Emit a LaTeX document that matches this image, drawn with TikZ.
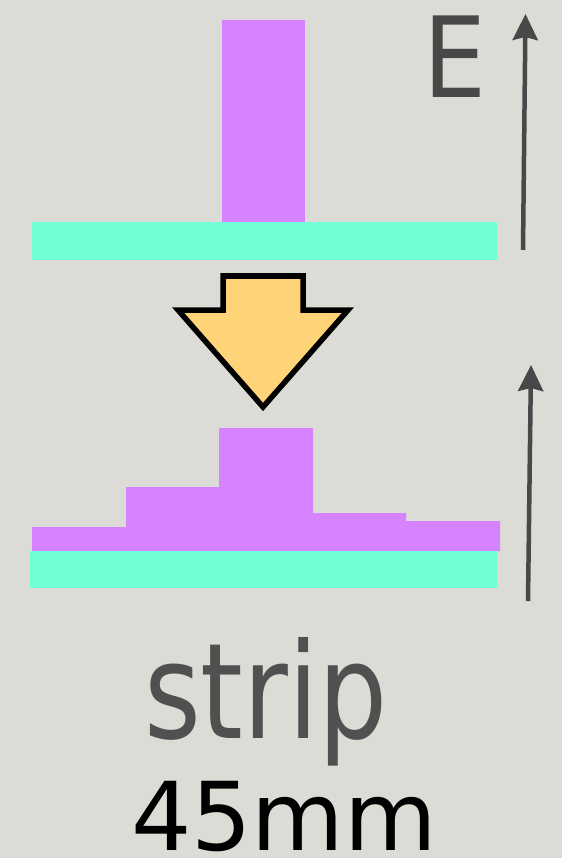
\documentclass[tikz,border=0pt]{standalone}
\usepackage{fontspec}
\setmainfont{DejaVu Sans}
\usetikzlibrary{arrows.meta}
\definecolor{paper}{RGB}{221,219,213}
\definecolor{filmpurple}{RGB}{214,131,255}
\definecolor{subgreen}{RGB}{115,255,214}
\definecolor{pushyellow}{RGB}{255,212,121}
\definecolor{inkgray}{RGB}{72,72,72}
\definecolor{textgray}{RGB}{80,80,80}

\begin{document}
\begin{tikzpicture}[x=1pt,y=-1pt,
  film/.style={fill=filmpurple},
  substrate/.style={fill=subgreen},
  push/.style={draw=black,fill=pushyellow,line width=5.5pt},
  field/.style={draw=inkgray,line width=4.5pt,-{Stealth[length=26pt,width=25pt,inset=3pt]}}]
\useasboundingbox (0,0) rectangle (562,858);
\fill [paper] (0,0) rectangle (562,858);

% before
\fill [film] (222,20) rectangle (305,223);
\fill [substrate] (32,222) rectangle (497,260);

\draw [push] (223,276) -- (303,276) -- (303,310) -- (348,310) -- (263,407)
  -- (178,310) -- (223,310) -- cycle;

% after
\fill [film] (32,551) -- (32,527) -- (126,527) -- (126,487) -- (219,487)
  -- (219,428) -- (313,428) -- (313,513) -- (406,513) -- (406,521)
  -- (500,521) -- (500,551) -- cycle;
\fill [substrate] (30,551) rectangle (497,588);

\path (523,250) coordinate (efoot);
\path (525.5,14) coordinate (etip);
\path (528,601) coordinate (sfoot);
\path (531,365) coordinate (stip);
\draw [field] (efoot) to (etip);
\draw [field] (sfoot) to (stip);

\path (455,98) node (elabel) [anchor=base,inner sep=0pt,text=inkgray]
  {\fontsize{112}{112}\selectfont\scalebox{0.89}[1]{E}};
\path (266,738) node (strip) [anchor=base,inner sep=0pt,text=textgray]
  {\fontsize{133}{133}\selectfont\scalebox{0.82}[1]{strip}};
\path (284,850) node (width) [anchor=base,inner sep=0pt,text depth=0pt,text=black]
  {\fontsize{95}{95}\selectfont 45mm};
\end{tikzpicture}
\end{document}
